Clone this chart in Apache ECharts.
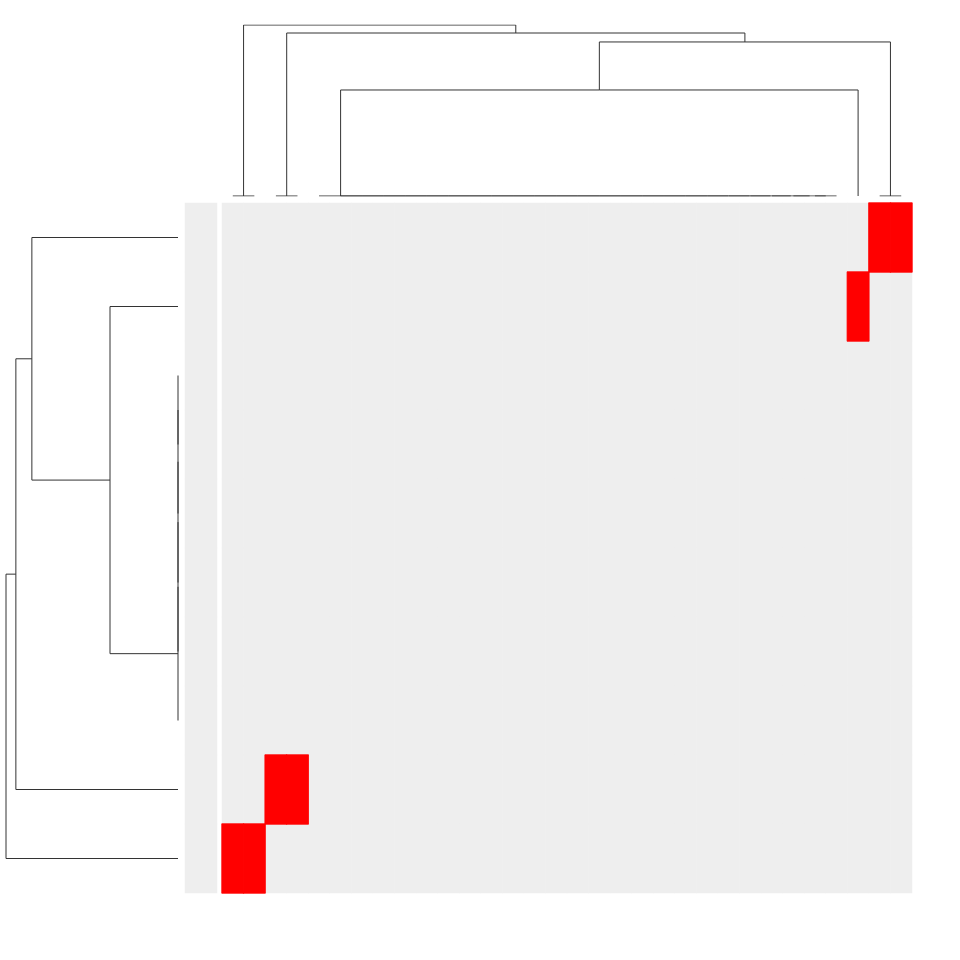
<!DOCTYPE html>
<html><head><meta charset="utf-8">
<script src="https://cdn.jsdelivr.net/npm/echarts@6/dist/echarts.min.js"></script>
<style>html,body{margin:0;padding:0;background:#fff}#c{width:960px;height:960px}</style>
</head><body><div id="c"></div>
<script>
// ---- data ----
var colNames = ['C1','C2','C3','C4','C5','C6','C7','C8','C9','C10','C11','C12','C13','C14','C15','C16',
  'C17','C18','C19','C20','C21','C22','C23','C24','C25','C26','C27','C28','C29','C30','C31','C32'];
var rowNames = ['R1','R2','R3','R4','R5','R6','R7','R8','R9','R10'];
var row1  = [0,0,0,0,0,0,0,0,0,0,0,0,0,0,0,0,0,0,0,0,0,0,0,0,0,0,0,0,0,0,1,1];
var row2  = [0,0,0,0,0,0,0,0,0,0,0,0,0,0,0,0,0,0,0,0,0,0,0,0,0,0,0,0,0,1,0,0];
var row3  = [0,0,0,0,0,0,0,0,0,0,0,0,0,0,0,0,0,0,0,0,0,0,0,0,0,0,0,0,0,0,0,0];
var row4  = [0,0,0,0,0,0,0,0,0,0,0,0,0,0,0,0,0,0,0,0,0,0,0,0,0,0,0,0,0,0,0,0];
var row5  = [0,0,0,0,0,0,0,0,0,0,0,0,0,0,0,0,0,0,0,0,0,0,0,0,0,0,0,0,0,0,0,0];
var row6  = [0,0,0,0,0,0,0,0,0,0,0,0,0,0,0,0,0,0,0,0,0,0,0,0,0,0,0,0,0,0,0,0];
var row7  = [0,0,0,0,0,0,0,0,0,0,0,0,0,0,0,0,0,0,0,0,0,0,0,0,0,0,0,0,0,0,0,0];
var row8  = [0,0,0,0,0,0,0,0,0,0,0,0,0,0,0,0,0,0,0,0,0,0,0,0,0,0,0,0,0,0,0,0];
var row9  = [0,0,1,1,0,0,0,0,0,0,0,0,0,0,0,0,0,0,0,0,0,0,0,0,0,0,0,0,0,0,0,0];
var row10 = [1,1,0,0,0,0,0,0,0,0,0,0,0,0,0,0,0,0,0,0,0,0,0,0,0,0,0,0,0,0,0,0];
var annotValues = [0,0,0,0,0,0,0,0,0,0];

// dendrogram merges (hclust style: negative = leaf index (1-based), positive = earlier merge)
var rowMerge = [
  [-3,-4,0],[1,-5,0],[2,-6,0],[3,-7,0],[4,-8,0],
  [-2,5,1.275],[-1,6,2.74],[7,-9,3.04],[8,-10,3.225]
];
var colMerge = [
  [-1,-2,0],[-3,-4,0],[-31,-32,0],
  [-28,-29,0],[-27,4,0],[-26,5,0],[-25,6,0],[-24,7,0],[-23,8,0],[-22,9,0],[-21,10,0],
  [-20,11,0],[-19,12,0],[-18,13,0],[-17,14,0],[-16,15,0],[-15,16,0],[-14,17,0],[-13,18,0],
  [-12,19,0],[-11,20,0],[-10,21,0],[-9,22,0],[-8,23,0],[-7,24,0],[-6,25,0],[-5,26,0],
  [27,-30,2.0],[28,3,2.906],[2,29,3.075],[1,30,3.226]
];
var colorLow = '#eeeeee', colorHigh = '#ff0000';

// ---- build ----
var rowsAll = [row1,row2,row3,row4,row5,row6,row7,row8,row9,row10];
function cell(x, y, v){
  var c = v ? colorHigh : colorLow;
  return {value:[x, y, v], itemStyle:{borderColor:c, borderWidth:v ? 0.8 : 0}};
}
var heatData = [];
rowsAll.forEach(function(r, ri){ r.forEach(function(v, ci){ if(!v) heatData.push(cell(ci, ri, v)); }); });
rowsAll.forEach(function(r, ri){ r.forEach(function(v, ci){ if(v) heatData.push(cell(ci, ri, v)); }); });
var annotData = annotValues.map(function(v, ri){ return cell(0, ri, v); });

function dendroSegments(merge, swap){
  var nodes = [];
  function info(id){
    if (id < 0) return {pos: -id - 0.5, h: 0};
    return nodes[id - 1];
  }
  var segs = [];
  merge.forEach(function(m){
    var a = info(m[0]), b = info(m[1]), h = m[2];
    var pts = [[a.pos, a.h],[a.pos, h],[b.pos, h],[b.pos, b.h]];
    if (swap) pts = pts.map(function(p){ return [p[1], p[0]]; });
    segs.push({coords: pts});
    nodes.push({pos: (a.pos + b.pos) / 2, h: h});
  });
  return segs;
}
var colSegs = dendroSegments(colMerge, false);
var rowSegs = dendroSegments(rowMerge, true);
var colRoot = colMerge[colMerge.length-1][2];
var rowRoot = rowMerge[rowMerge.length-1][2];

var hidden = {show:false};
var chart = echarts.init(document.getElementById('c'), null, {renderer:'canvas'});
chart.setOption({
  animation: false,
  backgroundColor: '#ffffff',
  grid: [
    {left: 222, top: 203, width: 690, height: 690},   // main heatmap
    {left: 185, top: 203, width: 32, height: 690},    // annotation column
    {left: 222, top: 25, width: 690, height: 171},    // top dendrogram
    {left: 6, top: 203, width: 172, height: 690}      // left dendrogram
  ],
  xAxis: [
    {type:'category', data: colNames, gridIndex:0, axisLine:hidden, axisTick:hidden, axisLabel:hidden, splitLine:hidden},
    {type:'category', data: ['A'], gridIndex:1, axisLine:hidden, axisTick:hidden, axisLabel:hidden, splitLine:hidden},
    {type:'value', min:0, max:colNames.length, gridIndex:2, show:false},
    {type:'value', min:0, max:rowRoot, inverse:true, gridIndex:3, show:false}
  ],
  yAxis: [
    {type:'category', data: rowNames, inverse:true, gridIndex:0, axisLine:hidden, axisTick:hidden, axisLabel:hidden, splitLine:hidden},
    {type:'category', data: rowNames, inverse:true, gridIndex:1, axisLine:hidden, axisTick:hidden, axisLabel:hidden, splitLine:hidden},
    {type:'value', min:0, max:colRoot, gridIndex:2, show:false},
    {type:'value', min:0, max:rowNames.length, inverse:true, gridIndex:3, show:false}
  ],
  visualMap: {
    type:'piecewise', show:false, seriesIndex:[0,1], dimension:2,
    pieces:[{value:0, color:colorLow},{value:1, color:colorHigh}]
  },
  series: [
    {type:'heatmap', xAxisIndex:0, yAxisIndex:0, data: heatData, emphasis:{disabled:true}},
    {type:'heatmap', xAxisIndex:1, yAxisIndex:1, data: annotData, emphasis:{disabled:true}},
    {type:'lines', coordinateSystem:'cartesian2d', xAxisIndex:2, yAxisIndex:2, polyline:true,
      data: colSegs, lineStyle:{color:'#333333', width:1, opacity:1}, silent:true},
    {type:'lines', coordinateSystem:'cartesian2d', xAxisIndex:3, yAxisIndex:3, polyline:true,
      data: rowSegs, lineStyle:{color:'#333333', width:1, opacity:1}, silent:true}
  ]
});
</script></body></html>
